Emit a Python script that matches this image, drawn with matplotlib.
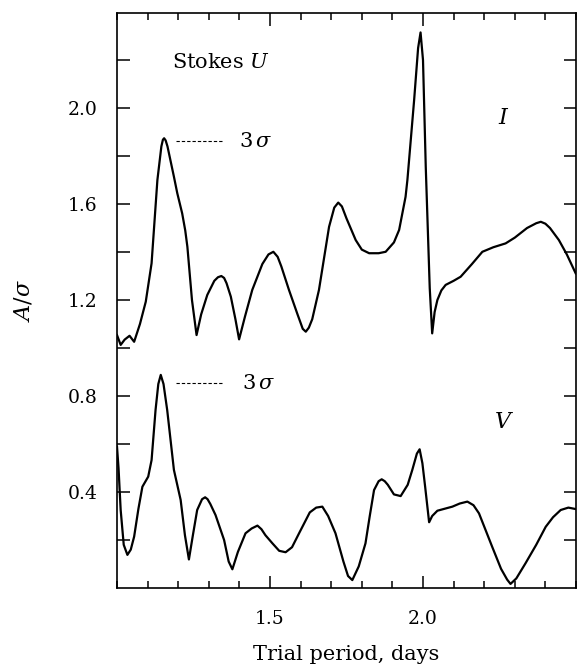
import matplotlib
matplotlib.use("Agg")
import matplotlib.pyplot as plt
from matplotlib.ticker import MultipleLocator, FixedLocator
import numpy as np

plt.rcParams['font.family'] = ['DejaVu Serif']
plt.rcParams['mathtext.fontset'] = 'dejavuserif'

# Stokes U, upper curve (labelled I)
period_i = [1.000, 1.012, 1.025, 1.041, 1.056, 1.075, 1.094, 1.113, 1.132, 1.145,
            1.150, 1.154, 1.159, 1.165, 1.186, 1.197, 1.213, 1.223, 1.230, 1.245,
            1.260, 1.275, 1.295, 1.318, 1.330, 1.341, 1.350, 1.358, 1.372, 1.387,
            1.399, 1.418, 1.442, 1.475, 1.495, 1.511, 1.525, 1.537, 1.562, 1.590,
            1.607, 1.617, 1.627, 1.638, 1.660, 1.693, 1.710, 1.723, 1.735, 1.750,
            1.780, 1.800, 1.824, 1.855, 1.878, 1.905, 1.922, 1.943, 1.949, 1.971,
            1.984, 1.992, 2.000, 2.009, 2.014, 2.022, 2.030, 2.038, 2.047, 2.060,
            2.074, 2.100, 2.123, 2.160, 2.194, 2.230, 2.270, 2.300, 2.340, 2.370,
            2.385, 2.400, 2.415, 2.444, 2.470, 2.499]
amp_i = [1.054, 1.013, 1.035, 1.051, 1.026, 1.100, 1.193, 1.353, 1.700, 1.840,
         1.868, 1.874, 1.865, 1.840, 1.714, 1.645, 1.561, 1.490, 1.422, 1.200,
         1.054, 1.140, 1.221, 1.280, 1.295, 1.300, 1.292, 1.270, 1.214, 1.120,
         1.036, 1.130, 1.242, 1.350, 1.390, 1.401, 1.380, 1.340, 1.242, 1.140,
         1.080, 1.068, 1.085, 1.120, 1.242, 1.505, 1.585, 1.606, 1.590, 1.540,
         1.450, 1.410, 1.395, 1.395, 1.401, 1.440, 1.492, 1.630, 1.700, 2.033,
         2.250, 2.315, 2.200, 1.755, 1.561, 1.250, 1.061, 1.150, 1.200, 1.240,
         1.263, 1.280, 1.297, 1.350, 1.401, 1.420, 1.436, 1.460, 1.500, 1.520,
         1.526, 1.518, 1.500, 1.450, 1.390, 1.311]

# Stokes U, lower curve (labelled V)
period_v = [1.000, 1.005, 1.012, 1.022, 1.034, 1.045, 1.056, 1.070, 1.083, 1.102,
            1.113, 1.126, 1.135, 1.143, 1.152, 1.164, 1.186, 1.208, 1.222, 1.235,
            1.248, 1.262, 1.278, 1.288, 1.296, 1.305, 1.322, 1.350, 1.365, 1.377,
            1.395, 1.420, 1.440, 1.459, 1.472, 1.485, 1.508, 1.530, 1.551, 1.572,
            1.595, 1.630, 1.651, 1.671, 1.690, 1.714, 1.740, 1.755, 1.769, 1.790,
            1.812, 1.826, 1.840, 1.855, 1.865, 1.875, 1.885, 1.905, 1.927, 1.950,
            1.965, 1.980, 1.989, 1.998, 2.007, 2.020, 2.030, 2.047, 2.070, 2.096,
            2.120, 2.145, 2.165, 2.183, 2.205, 2.226, 2.255, 2.275, 2.286, 2.305,
            2.335, 2.370, 2.401, 2.425, 2.450, 2.475, 2.499]
amp_v = [0.589, 0.500, 0.325, 0.180, 0.138, 0.160, 0.214, 0.330, 0.422, 0.464,
         0.533, 0.742, 0.850, 0.888, 0.850, 0.742, 0.492, 0.367, 0.220, 0.119,
         0.220, 0.325, 0.370, 0.378, 0.370, 0.350, 0.304, 0.200, 0.110, 0.078,
         0.150, 0.228, 0.248, 0.260, 0.245, 0.220, 0.186, 0.155, 0.149, 0.170,
         0.228, 0.315, 0.335, 0.339, 0.300, 0.228, 0.110, 0.050, 0.033, 0.090,
         0.186, 0.300, 0.408, 0.445, 0.453, 0.445, 0.430, 0.390, 0.383, 0.430,
         0.492, 0.560, 0.578, 0.520, 0.422, 0.274, 0.300, 0.322, 0.330, 0.339,
         0.352, 0.360, 0.345, 0.311, 0.240, 0.172, 0.080, 0.035, 0.017, 0.040,
         0.103, 0.180, 0.255, 0.295, 0.325, 0.335, 0.329]

# 3 sigma levels
sigma3_i = 1.862
sigma3_v = 0.854

fig = plt.figure(figsize=(5.77, 6.67), dpi=100)
ax = fig.add_axes([117 / 577, 79 / 667, 459 / 577, 575 / 667])

ax.plot(period_i, amp_i, color='black', lw=1.6, solid_joinstyle='round')
ax.plot(period_v, amp_v, color='black', lw=1.6, solid_joinstyle='round')

ax.plot([1.193, 1.350], [sigma3_i, sigma3_i], color='black', lw=0.8, ls=(0, (3, 1.8)))
ax.plot([1.193, 1.350], [sigma3_v, sigma3_v], color='black', lw=0.8, ls=(0, (3, 1.8)))
ax.text(1.398, sigma3_i, r'$3\,\sigma$', fontsize=15, va='center', ha='left')
ax.text(1.408, sigma3_v, r'$3\,\sigma$', fontsize=15, va='center', ha='left')

ax.text(1.18, 2.19, r'Stokes $U$', fontsize=15, va='center', ha='left')
ax.text(2.265, 1.958, r'$I$', fontsize=16, va='center', ha='center')
ax.text(2.265, 0.692, r'$V$', fontsize=16, va='center', ha='center')

ax.set_xlim(1.0, 2.5)
ax.set_ylim(0.0, 2.396)

ax.xaxis.set_major_locator(FixedLocator([1.5, 2.0]))
ax.xaxis.set_minor_locator(MultipleLocator(0.1))
ax.set_xticklabels(['1.5', '2.0'])

yt = np.round(np.arange(0.2, 2.3, 0.2), 1)
ax.set_yticks(yt)
ax.set_yticklabels([f'{v:.1f}' if round(v / 0.4, 3) % 1 == 0 else '' for v in yt])

ax.tick_params(axis='both', which='both', direction='in', top=True, right=True,
               labelsize=13.5, width=1.1)
ax.tick_params(axis='x', which='major', length=9, pad=16)
ax.tick_params(axis='x', which='minor', length=5)
ax.tick_params(axis='y', which='major', length=9, pad=14)

for s in ax.spines.values():
    s.set_linewidth(1.2)

ax.set_xlabel('Trial period, days', fontsize=15, labelpad=12)
ax.set_ylabel(r'$A/\sigma$', fontsize=16, labelpad=24)

fig.savefig('out.png', dpi=100)
